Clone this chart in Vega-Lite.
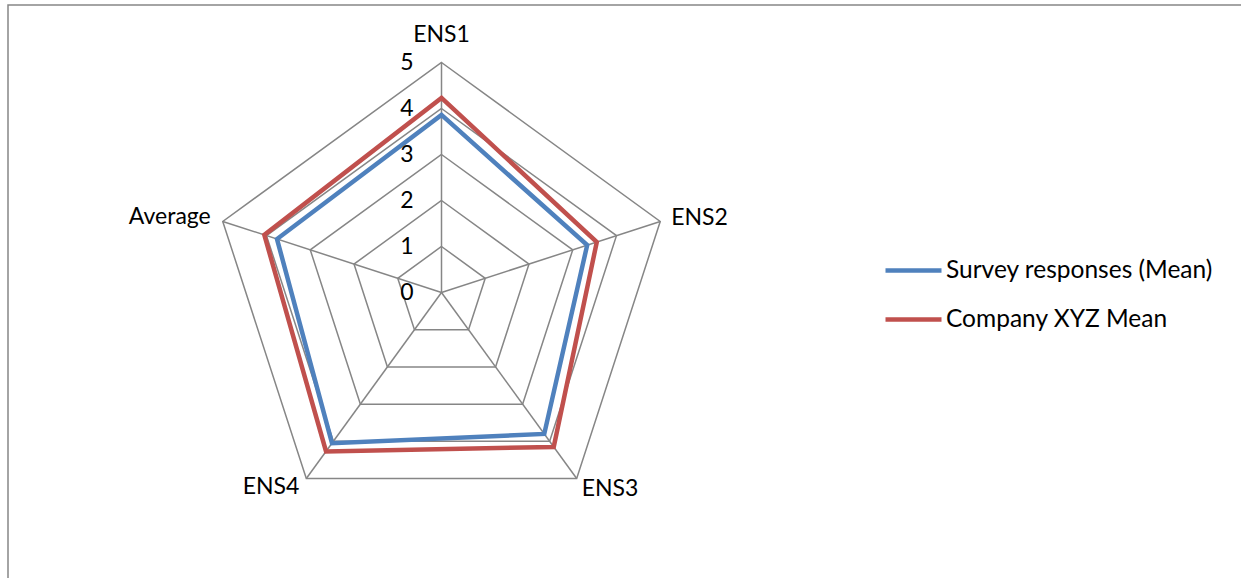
{
  "$schema": "https://vega.github.io/schema/vega-lite/v6.json",
  "width": 1240,
  "height": 580,
  "autosize": {"type": "none"},
  "padding": {"left": 8, "top": 5, "right": 0, "bottom": 0},
  "background": "white",
  "config": {"view": {"stroke": "#868686", "strokeWidth": 1.5}, "font": "Lato", "text": {"font": "Lato"}},
  "datasets": {
    "series": [
      {"series": "Survey responses (Mean)", "axis": "ENS1", "k": 0, "value": 3.86},
      {"series": "Survey responses (Mean)", "axis": "ENS2", "k": 1, "value": 3.33},
      {"series": "Survey responses (Mean)", "axis": "ENS3", "k": 2, "value": 3.8},
      {"series": "Survey responses (Mean)", "axis": "ENS4", "k": 3, "value": 4.05},
      {"series": "Survey responses (Mean)", "axis": "Average", "k": 4, "value": 3.76},
      {"series": "Company XYZ Mean", "axis": "ENS1", "k": 0, "value": 4.23},
      {"series": "Company XYZ Mean", "axis": "ENS2", "k": 1, "value": 3.55},
      {"series": "Company XYZ Mean", "axis": "ENS3", "k": 2, "value": 4.15},
      {"series": "Company XYZ Mean", "axis": "ENS4", "k": 3, "value": 4.27},
      {"series": "Company XYZ Mean", "axis": "Average", "k": 4, "value": 4.05}
    ],
    "axes": [
      {"axis": "ENS1", "k": 0},
      {"axis": "ENS2", "k": 1},
      {"axis": "ENS3", "k": 2},
      {"axis": "ENS4", "k": 3},
      {"axis": "Average", "k": 4}
    ],
    "levels": [{"level": 0}, {"level": 1}, {"level": 2}, {"level": 3}, {"level": 4}, {"level": 5}],
    "grid": [
      {"level": 1, "k": 0}, {"level": 1, "k": 1}, {"level": 1, "k": 2}, {"level": 1, "k": 3}, {"level": 1, "k": 4},
      {"level": 2, "k": 0}, {"level": 2, "k": 1}, {"level": 2, "k": 2}, {"level": 2, "k": 3}, {"level": 2, "k": 4},
      {"level": 3, "k": 0}, {"level": 3, "k": 1}, {"level": 3, "k": 2}, {"level": 3, "k": 3}, {"level": 3, "k": 4},
      {"level": 4, "k": 0}, {"level": 4, "k": 1}, {"level": 4, "k": 2}, {"level": 4, "k": 3}, {"level": 4, "k": 4},
      {"level": 5, "k": 0}, {"level": 5, "k": 1}, {"level": 5, "k": 2}, {"level": 5, "k": 3}, {"level": 5, "k": 4}
    ]
  },
  "encoding": {
    "x": {"field": "x", "type": "quantitative", "scale": {"domain": [-9.424, 17.533], "nice": false, "zero": false}, "axis": null},
    "y": {"field": "y", "type": "quantitative", "scale": {"domain": [-6.359, 6.25], "nice": false, "zero": false}, "axis": null}
  },
  "layer": [
    {
      "data": {"name": "grid"},
      "transform": [
        {"calculate": "datum.k * 2 * PI / 5", "as": "a"},
        {"calculate": "datum.level * sin(datum.a)", "as": "x"},
        {"calculate": "datum.level * cos(datum.a)", "as": "y"}
      ],
      "mark": {"type": "line", "interpolate": "linear-closed", "stroke": "#868686", "strokeWidth": 1.5},
      "encoding": {"detail": {"field": "level", "type": "nominal"}, "order": {"field": "k", "type": "quantitative"}}
    },
    {
      "data": {"name": "axes"},
      "transform": [
        {"calculate": "datum.k * 2 * PI / 5", "as": "a"},
        {"calculate": "5 * sin(datum.a)", "as": "x"},
        {"calculate": "5 * cos(datum.a)", "as": "y"}
      ],
      "mark": {"type": "rule", "stroke": "#868686", "strokeWidth": 1.5},
      "encoding": {"x2": {"datum": 0}, "y2": {"datum": 0}}
    },
    {
      "data": {"name": "series"},
      "transform": [
        {"calculate": "datum.k * 2 * PI / 5", "as": "a"},
        {"calculate": "datum.value * sin(datum.a)", "as": "x"},
        {"calculate": "datum.value * cos(datum.a)", "as": "y"}
      ],
      "mark": {"type": "line", "interpolate": "linear-closed", "strokeWidth": 4.5},
      "encoding": {
        "color": {
          "field": "series",
          "type": "nominal",
          "scale": {"domain": ["Survey responses (Mean)", "Company XYZ Mean"], "range": ["#4F81BD", "#C0504D"]},
          "legend": {
            "orient": "none",
            "legendX": 875,
            "legendY": 235,
            "title": null,
            "symbolType": "stroke",
            "symbolSize": 3136,
            "symbolStrokeWidth": 4.5,
            "labelFontSize": 24.5,
            "labelFont": "Lato",
            "labelColor": "black",
            "labelLimit": 0,
            "labelOffset": 2,
            "rowPadding": 7
          }
        },
        "order": {"field": "k", "type": "quantitative"}
      }
    },
    {
      "data": {"name": "levels"},
      "transform": [
        {"calculate": "0", "as": "x"},
        {"calculate": "datum.level", "as": "y"}
      ],
      "mark": {"type": "text", "align": "right", "baseline": "alphabetic", "dx": -28, "dy": 8, "fontSize": 23, "color": "black"},
      "encoding": {"text": {"field": "level", "type": "quantitative"}}
    },
    {
      "data": {"name": "axes"},
      "transform": [
        {"filter": "datum.axis == 'ENS1'"},
        {"calculate": "datum.k * 2 * PI / 5", "as": "a"},
        {"calculate": "5 * sin(datum.a)", "as": "x"},
        {"calculate": "5 * cos(datum.a)", "as": "y"}
      ],
      "mark": {"type": "text", "align": "center", "baseline": "alphabetic", "dy": -20, "fontSize": 23, "color": "black"},
      "encoding": {"text": {"field": "axis", "type": "nominal"}}
    },
    {
      "data": {"name": "axes"},
      "transform": [
        {"filter": "datum.axis == 'ENS2'"},
        {"calculate": "datum.k * 2 * PI / 5", "as": "a"},
        {"calculate": "5 * sin(datum.a)", "as": "x"},
        {"calculate": "5 * cos(datum.a)", "as": "y"}
      ],
      "mark": {"type": "text", "align": "left", "baseline": "alphabetic", "dx": 11, "dy": 4, "fontSize": 23, "color": "black"},
      "encoding": {"text": {"field": "axis", "type": "nominal"}}
    },
    {
      "data": {"name": "axes"},
      "transform": [
        {"filter": "datum.axis == 'ENS3'"},
        {"calculate": "datum.k * 2 * PI / 5", "as": "a"},
        {"calculate": "5 * sin(datum.a)", "as": "x"},
        {"calculate": "5 * cos(datum.a)", "as": "y"}
      ],
      "mark": {"type": "text", "align": "left", "baseline": "alphabetic", "dx": 5, "dy": 17, "fontSize": 23, "color": "black"},
      "encoding": {"text": {"field": "axis", "type": "nominal"}}
    },
    {
      "data": {"name": "axes"},
      "transform": [
        {"filter": "datum.axis == 'ENS4'"},
        {"calculate": "datum.k * 2 * PI / 5", "as": "a"},
        {"calculate": "5 * sin(datum.a)", "as": "x"},
        {"calculate": "5 * cos(datum.a)", "as": "y"}
      ],
      "mark": {"type": "text", "align": "right", "baseline": "alphabetic", "dx": -7, "dy": 15, "fontSize": 23, "color": "black"},
      "encoding": {"text": {"field": "axis", "type": "nominal"}}
    },
    {
      "data": {"name": "axes"},
      "transform": [
        {"filter": "datum.axis == 'Average'"},
        {"calculate": "datum.k * 2 * PI / 5", "as": "a"},
        {"calculate": "5 * sin(datum.a)", "as": "x"},
        {"calculate": "5 * cos(datum.a)", "as": "y"}
      ],
      "mark": {"type": "text", "align": "right", "baseline": "alphabetic", "dx": -12, "dy": 3, "fontSize": 23, "color": "black"},
      "encoding": {"text": {"field": "axis", "type": "nominal"}}
    }
  ]
}
